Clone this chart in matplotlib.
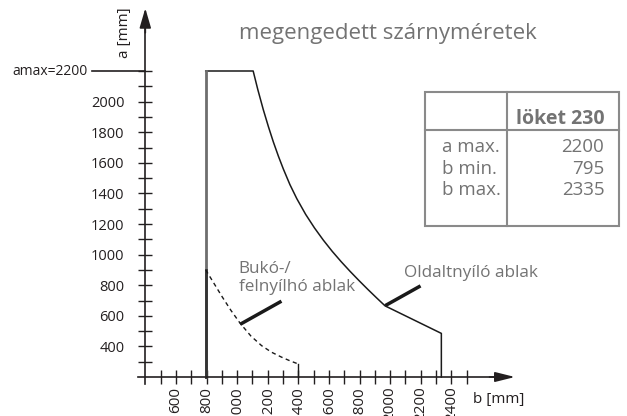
import matplotlib
matplotlib.use("Agg")
import matplotlib.pyplot as plt
from matplotlib.lines import Line2D
from matplotlib.patches import Rectangle

# values (b = width, a = height, mm)
a_max = 2200
b_min = 795
b_max = 2335

side_b = [795, 795, 1105, 1135, 1171, 1205, 1237, 1270, 1302, 1345, 1390, 1448, 1506,
          1564, 1622, 1680, 1738, 1796, 1854, 1912, 1967, 2335, 2335]
side_a = [200, 2200, 2200, 2080, 1948, 1835, 1736, 1643, 1560, 1458, 1366, 1263, 1174,
          1094, 1021, 954, 891, 831, 773, 717, 665, 485, 200]

tilt_b = [795, 850, 900, 960, 1020, 1090, 1160, 1225, 1290, 1345, 1400]
tilt_a = [900, 810, 728, 635, 551, 468, 405, 362, 330, 306, 285]

# leader lines for the two labels
tilt_leader_b = [1030, 1280]
tilt_leader_a = [550, 690]
side_leader_b = [1978, 2189]
side_leader_a = [672, 790]

x_major = list(range(600, 2401, 200))
x_minor = list(range(500, 2501, 100))
y_major = list(range(400, 2001, 200))
y_minor = list(range(300, 2201, 100))

table_header = "löket 230"
table_rows = ["a max.", "b min.", "b max."]
table_vals = [a_max, b_min, b_max]

GRAY = "#737373"
DARK = "#231f20"
plt.rcParams['font.family'] = ['Open Sans', 'DejaVu Sans']

W, H = 627, 416
fig = plt.figure(figsize=(W / 100, H / 100), dpi=100)
ax = fig.add_axes([0, 0, 1, 1])

s = 0.153  # px per mm
x0 = 400 - 145.3 / s
y1 = 200 + 377 / s
ax.set_xlim(x0, x0 + W / s)
ax.set_ylim(y1 - H / s, y1)

for sp in ["top", "right"]:
    ax.spines[sp].set_visible(False)
ax.spines["left"].set_position(("data", 400))
ax.spines["bottom"].set_position(("data", 200))
ax.spines["left"].set_bounds(155, 2500)
ax.spines["bottom"].set_bounds(350, 2720)
for sp in ["left", "bottom"]:
    ax.spines[sp].set_color(DARK)
    ax.spines[sp].set_linewidth(1.2)

ax.annotate("", xy=(400, 2610), xytext=(400, 2450),
            arrowprops=dict(arrowstyle="-|>,head_length=1.2,head_width=0.35",
                            color=DARK, lw=1.2, shrinkA=0, shrinkB=0))
ax.annotate("", xy=(2816, 200), xytext=(2650, 200),
            arrowprops=dict(arrowstyle="-|>,head_length=1.2,head_width=0.3",
                            color=DARK, lw=1.2, shrinkA=0, shrinkB=0))

ax.set_xticks(x_major)
ax.set_xticks([v for v in x_minor if v not in x_major], minor=True)
ax.set_yticks(y_major)
ax.set_yticks([v for v in y_minor if v not in y_major], minor=True)
ax.set_xticklabels([str(v) for v in x_major], rotation=90)
ax.set_yticklabels([str(v) for v in y_major])
ax.tick_params(which="both", direction="inout", length=10, width=1, color=DARK)
ax.tick_params(axis="x", which="major", pad=2, labelsize=11, labelcolor=DARK)
ax.tick_params(axis="y", which="major", pad=10, labelsize=10.5, labelcolor=DARK)

ax.text(315, 2448, "a [mm]", rotation=90, ha="right", va="center", fontsize=11, color=DARK)
ax.text(2542, 50, "b [mm]", ha="left", va="center", fontsize=11, color=DARK)

# a max marker
ax.plot([50, 400], [a_max, a_max], color=DARK, lw=1.2)
ax.text(20, a_max, f"amax={a_max}", ha="right", va="center", fontsize=10, color=DARK)

# curves
ax.plot(side_b[1:], side_a[1:], color="#1a1a1a", lw=1.1)
ax.plot(side_b[:2], side_a[:2], color="#6e6e6e", lw=2)
ax.plot([b_min, b_min], [200, tilt_a[0]], color="#333333", lw=2)
ax.plot(tilt_b, tilt_a, color="#1a1a1a", lw=1, ls=(0, (3, 2.5)))
ax.plot([tilt_b[-1], tilt_b[-1]], [tilt_a[-1], 200], color="#1a1a1a", lw=1)

ax.plot(tilt_leader_b, tilt_leader_a, color="#1a1a1a", lw=2.5)
ax.plot(side_leader_b, side_leader_a, color="#1a1a1a", lw=2.5)

ax.text(1010, 960, "Bukó-/\nfelnyílhó ablak", ha="left", va="top", fontsize=12.3,
        color=GRAY, linespacing=1.2)
ax.text(2090, 935, "Oldaltnyíló ablak", ha="left", va="top", fontsize=12.3, color=GRAY)

# title
fig.text(388 / W, 1 - 34 / H, "megengedett szárnyméretek", ha="center", va="center",
         fontsize=16, color=GRAY)

# table (pixel layout)
def px(x, y):
    return x / W, 1 - y / H

tl = px(425, 92.3)
br = px(619.3, 225.7)
fig.add_artist(Rectangle((tl[0], br[1]), br[0] - tl[0], tl[1] - br[1],
                         transform=fig.transFigure, fill=False, ec="#8a8a8a", lw=1.5))
fig.add_artist(Line2D([507.3 / W] * 2, [tl[1], br[1]], transform=fig.transFigure,
                      color="#8a8a8a", lw=1.5))
fig.add_artist(Line2D([tl[0], br[0]], [1 - 130 / H] * 2, transform=fig.transFigure,
                      color="#8a8a8a", lw=1.5))
fig.text(*px(604.3, 119.3), table_header, ha="right", va="center", fontsize=14,
         fontweight="bold", color=GRAY)
for i, (lab, val) in enumerate(zip(table_rows, table_vals)):
    y = 147.3 + i * 21.4
    fig.text(*px(441.7, y), lab, ha="left", va="center", fontsize=13.5, color=GRAY)
    fig.text(*px(604.3, y), str(val), ha="right", va="center", fontsize=13.5, color=GRAY)

fig.savefig("out.png", dpi=100)
